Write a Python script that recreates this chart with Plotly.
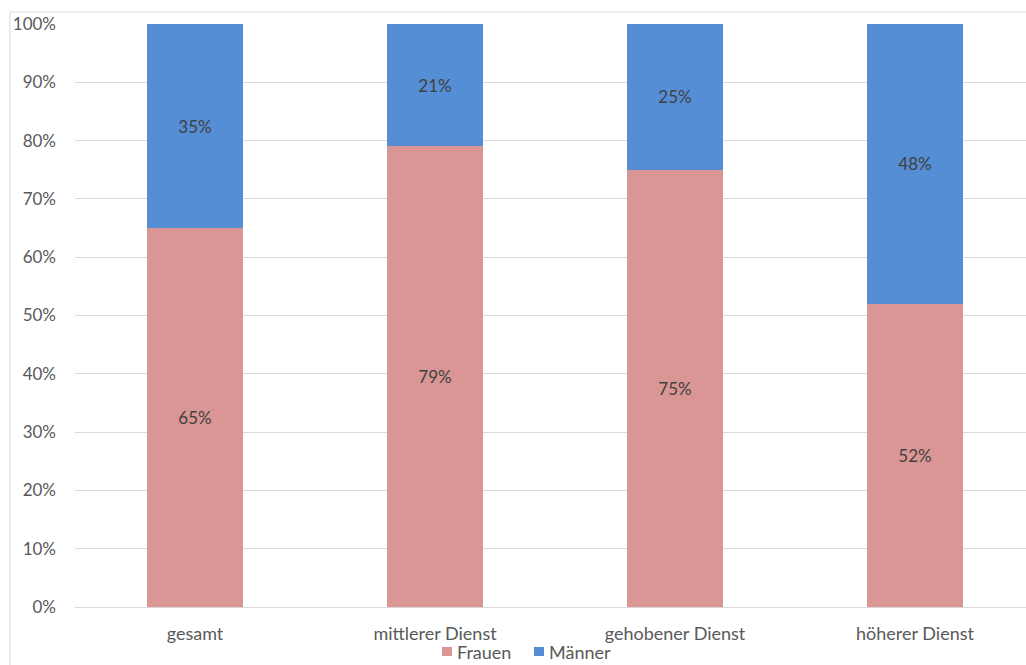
import plotly.graph_objects as go

categories = ["gesamt", "mittlerer Dienst", "gehobener Dienst", "höherer Dienst"]
frauen = [65, 79, 75, 52]
maenner = [35, 21, 25, 48]
y_ticks = [0, 10, 20, 30, 40, 50, 60, 70, 80, 90, 100]
series_names = ["Frauen", "Männer"]
series_colors = ["#DA9694", "#558ED5"]

W, H = 1026, 665
L, R, T, B = 75, 0, 24, 58
plot_w = W - L - R
plot_h = H - T - B
slot_px = 240  # horizontal pixels per category

font_family = "Lato, 'Open Sans', sans-serif"
label_col = "#404040"
tick_col = "#595959"
fsize = 17
cat_size = 18


def px_x(px):
    return (px - L) / plot_w


def px_y(py):
    return (T + plot_h - py) / plot_h


fig = go.Figure()
for name, vals, col in zip(series_names, [frauen, maenner], series_colors):
    fig.add_trace(go.Bar(
        name=name, x=categories, y=vals,
        marker=dict(color=col, line=dict(width=0)),
        text=[f"{v}%" for v in vals], textposition="inside",
        insidetextanchor="middle",
        textfont=dict(color=label_col, size=fsize, family=font_family),
        showlegend=False,
    ))

# legend drawn as swatches + text below the plot
legend_swatch_left = [442, 534]
for name, col, sx in zip(series_names, series_colors, legend_swatch_left):
    fig.add_shape(type="rect", xref="paper", yref="paper",
                  x0=px_x(sx), x1=px_x(sx + 10), y0=px_y(656), y1=px_y(647),
                  fillcolor=col, line=dict(width=0))
    fig.add_annotation(xref="paper", yref="paper", x=px_x(sx + 13), y=px_y(651.5),
                       xanchor="left", yanchor="middle", showarrow=False,
                       text=name, font=dict(size=cat_size, color=tick_col, family=font_family))

# outer chart frame (left and top edges visible)
fx = px_x(10)
fy = px_y(12)
frame = dict(color="#D9D9D9", width=1)
fig.add_shape(type="line", xref="paper", yref="paper", x0=fx, x1=fx, y0=px_y(670), y1=fy, line=frame)
fig.add_shape(type="line", xref="paper", yref="paper", x0=fx, x1=1.01, y0=fy, y1=fy, line=frame)

fig.update_layout(
    width=W, height=H,
    margin=dict(l=L, r=R, t=T, b=B),
    barmode="stack", bargap=0.6,
    plot_bgcolor="white", paper_bgcolor="white",
    font=dict(family=font_family, size=fsize, color=tick_col),
    showlegend=False,
    uniformtext=dict(mode=False),
)
fig.update_xaxes(
    range=[-0.5, -0.5 + plot_w / slot_px],
    showgrid=False, showline=False, ticks="",
    ticklabelstandoff=14,
    tickfont=dict(size=cat_size, color=tick_col),
)
fig.update_yaxes(
    range=[0, 100], tickvals=y_ticks,
    ticktext=[f"{v}%" for v in y_ticks],
    showgrid=True, gridcolor="#D9D9D9", gridwidth=1,
    zeroline=True, zerolinecolor="#D9D9D9", zerolinewidth=1,
    showline=False, ticks="", ticklabelstandoff=18,
    tickfont=dict(size=fsize, color=tick_col),
)

fig.write_html("out.html")
